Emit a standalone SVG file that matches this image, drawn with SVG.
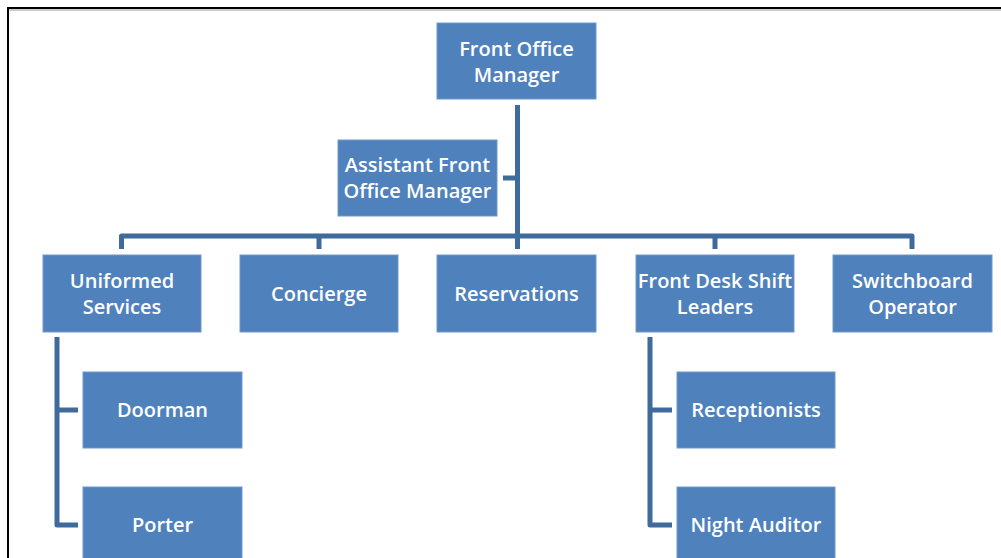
<svg xmlns="http://www.w3.org/2000/svg" width="1001" height="558" viewBox="0 0 1001 558">
  <style>
    .box { fill: #4F81BD; stroke: #6E98CB; stroke-width: 1; }
    .lbl { fill: #FFFFFF; font-family: "Open Sans", "Liberation Sans", sans-serif; font-size: 20px; font-weight: 600; text-anchor: middle; }
    .conn { fill: none; stroke: #3E6A9C; stroke-width: 5; stroke-linejoin: round; stroke-linecap: butt; }
  </style>
  <rect x="0" y="0" width="1001" height="558" fill="#FFFFFF"/>
  <!-- frame -->
  <line x1="8" y1="8" x2="1001" y2="8" stroke="#000000" stroke-width="2"/>
  <line x1="8" y1="10" x2="1001" y2="10" stroke="#9A9A9A" stroke-width="1"/>
  <line x1="8" y1="7" x2="8" y2="558" stroke="#000000" stroke-width="2"/>

  <g id="connectors">
    <path class="conn" d="M517.5 105 V249"/>
    <path class="conn" d="M503 178 H517.5"/>
    <path class="conn" d="M121.5 249 V236 H912 V249"/>
    <path class="conn" d="M319 236 V249"/>
    <path class="conn" d="M715 236 V249"/>
    <path class="conn" d="M57 337 V525 H78"/>
    <path class="conn" d="M57 410 H78"/>
    <path class="conn" d="M650 337 V525 H672"/>
    <path class="conn" d="M650 410 H672"/>
  </g>

  <g id="front-office-manager">
    <rect class="box" x="437" y="23" width="159" height="76"/>
    <text class="lbl" x="516.5" y="56">Front Office</text>
    <text class="lbl" x="516.5" y="82">Manager</text>
  </g>
  <g id="assistant-front-office-manager">
    <rect class="box" x="338" y="140" width="159" height="76"/>
    <text class="lbl" x="417.5" y="172">Assistant Front</text>
    <text class="lbl" x="417.5" y="198">Office Manager</text>
  </g>
  <g id="uniformed-services">
    <rect class="box" x="43" y="255" width="158" height="77"/>
    <text class="lbl" x="122" y="288">Uniformed</text>
    <text class="lbl" x="122" y="314">Services</text>
  </g>
  <g id="concierge">
    <rect class="box" x="240" y="255" width="158" height="77"/>
    <text class="lbl" x="319" y="301">Concierge</text>
  </g>
  <g id="reservations">
    <rect class="box" x="437" y="255" width="159" height="77"/>
    <text class="lbl" x="516.5" y="301">Reservations</text>
  </g>
  <g id="front-desk-shift-leaders">
    <rect class="box" x="636" y="255" width="158" height="77"/>
    <text class="lbl" x="715" y="288">Front Desk Shift</text>
    <text class="lbl" x="715" y="314">Leaders</text>
  </g>
  <g id="switchboard-operator">
    <rect class="box" x="833" y="255" width="159" height="77"/>
    <text class="lbl" x="912.5" y="288">Switchboard</text>
    <text class="lbl" x="912.5" y="314">Operator</text>
  </g>
  <g id="doorman">
    <rect class="box" x="83" y="372" width="159" height="76"/>
    <text class="lbl" x="162.5" y="417">Doorman</text>
  </g>
  <g id="porter">
    <rect class="box" x="83" y="487" width="159" height="76"/>
    <text class="lbl" x="162.5" y="532">Porter</text>
  </g>
  <g id="receptionists">
    <rect class="box" x="677" y="372" width="158" height="76"/>
    <text class="lbl" x="756" y="417">Receptionists</text>
  </g>
  <g id="night-auditor">
    <rect class="box" x="677" y="487" width="158" height="76"/>
    <text class="lbl" x="756" y="532">Night Auditor</text>
  </g>
</svg>
